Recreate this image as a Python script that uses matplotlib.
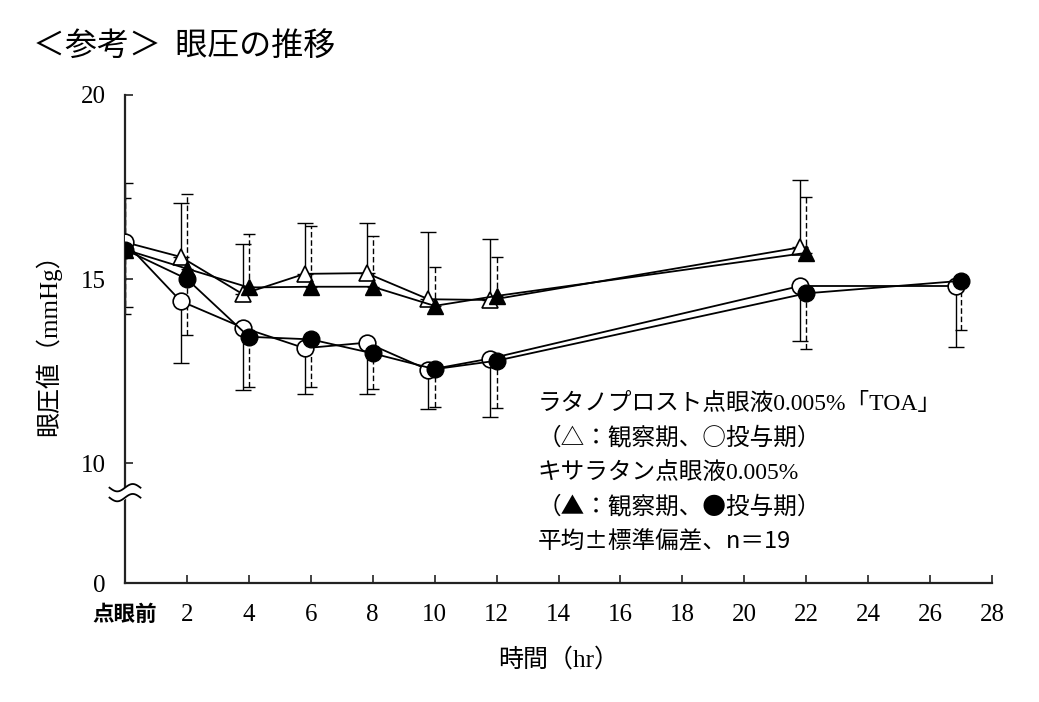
import matplotlib
matplotlib.use("Agg")
import matplotlib.pyplot as plt
from matplotlib.transforms import ScaledTranslation
import numpy as np

plt.rcParams['font.family'] = ['Liberation Serif', 'Noto Sans CJK JP']

# hours (filled markers sit on the hour, open ones are drawn slightly left)
hours_tri = [0, 2, 4, 6, 8, 10, 12, 22]
hours_cir = [0, 2, 4, 6, 8, 10, 12, 22, 27]
x_open_tri = [0, 1.8, 3.8, 5.8, 7.8, 9.8, 11.8, 21.8]
x_open_cir = [0, 1.8, 3.8, 5.8, 7.8, 9.8, 11.8, 21.8, 26.85]

# ラタノプロスト点眼液「TOA」 観察期 (open triangle), SD upward
tri_open = [16.0, 15.6, 14.59, 15.14, 15.16, 14.45, 14.43, 15.86]
tri_open_sd = [1.62, 1.46, 1.36, 1.39, 1.37, 1.82, 1.65, 1.83]
# キサラタン 観察期 (filled triangle), SD upward
tri_fill = [15.8, 15.28, 14.77, 14.79, 14.79, 14.27, 14.54, 15.71]
tri_fill_sd = [1.39, 2.03, 1.44, 1.64, 1.38, 1.05, 1.05, 1.53]
# ラタノプロスト 投与期 (open circle), SD downward
cir_open = [16.0, 14.4, 13.68, 13.12, 13.27, 12.53, 12.84, 14.81, 14.81]
cir_open_sd = [1.76, 1.69, 1.70, 1.25, 1.40, 1.07, 1.60, 1.49, 1.67]
# キサラタン 投与期 (filled circle), SD downward
cir_fill = [15.8, 15.0, 13.43, 13.36, 12.98, 12.55, 12.78, 14.61, 14.95]
cir_fill_sd = [1.75, 1.52, 1.37, 1.29, 0.98, 1.02, 1.29, 1.52, 1.34]

xtick_vals = list(range(0, 29, 2))
xtick_labels = ['点眼前'] + [str(v) for v in xtick_vals[1:]]

legend_lines = [
    'ラタノプロスト点眼液0.005%「TOA」',
    '（△：観察期、○投与期）',
    'キサラタン点眼液0.005%',
    '（▲：観察期、●投与期）',
    '平均±標準偏差、n＝19',
]
# lines whose symbols should come from the CJK font (full-width marks)
cjk_first = [False, True, False, True, True]

AXIS_BOTTOM = 6.74   # where the "0" of the broken axis sits
BREAK_Y = 9.18

fig = plt.figure(figsize=(10.39, 7.02), dpi=100)
ax = fig.add_axes([0.1203, 0.1695, 0.8345, 0.6952])

lw = 1.3
dash = (0, (4, 2))
# error bars (solid for open markers, dashed for filled)
ax.errorbar(x_open_tri, tri_open, yerr=[np.zeros(len(tri_open)), tri_open_sd],
            fmt='none', ecolor='black', elinewidth=1.0, capsize=6, capthick=1.0, zorder=2)
e = ax.errorbar(hours_tri, tri_fill, yerr=[np.zeros(len(tri_fill)), tri_fill_sd],
                fmt='none', ecolor='black', elinewidth=1.0, capsize=4, capthick=1.0, zorder=2)
e[2][0].set_linestyle(dash)
ax.errorbar(x_open_cir, cir_open, yerr=[cir_open_sd, np.zeros(len(cir_open))],
            fmt='none', ecolor='black', elinewidth=1.0, capsize=6, capthick=1.0, zorder=2)
e = ax.errorbar(hours_cir, cir_fill, yerr=[cir_fill_sd, np.zeros(len(cir_fill))],
                fmt='none', ecolor='black', elinewidth=1.0, capsize=4, capthick=1.0, zorder=2)
e[2][0].set_linestyle(dash)

# lines and markers
ax.plot(x_open_tri, tri_open, color='black', lw=lw, marker='^', ms=12,
        mfc='white', mec='black', mew=1.2, zorder=5)
ax.plot(hours_tri, tri_fill, color='black', lw=lw, marker='^', ms=12,
        mfc='black', mec='black', zorder=5)
ax.plot(x_open_cir, cir_open, color='black', lw=lw, marker='o', ms=12,
        mfc='white', mec='black', mew=1.2, zorder=6)
ax.plot(hours_cir, cir_fill, color='black', lw=lw, marker='o', ms=12,
        mfc='black', mec='black', zorder=6)

ax.set_xlim(0, 28)
ax.set_ylim(AXIS_BOTTOM, 20)
ax.set_xticks(xtick_vals)
ax.set_xticklabels(xtick_labels, fontsize=18)
lab0 = ax.get_xticklabels()[0]
lab0.set_fontfamily('Noto Sans CJK JP')
lab0.set_fontweight('bold')
lab0.set_fontsize(15.5)
lab0.set_transform(lab0.get_transform() + ScaledTranslation(-0.18, -0.02, fig.dpi_scale_trans))
ax.set_yticks([AXIS_BOTTOM, 10, 15, 20])
ax.set_yticklabels(['0', '10', '15', '20'], fontsize=18)
ax.tick_params(axis='both', direction='in', length=6, width=1.2, color='#222222')
ax.tick_params(axis='y', pad=14)
ax.tick_params(axis='x', pad=15)
for s in ['top', 'right']:
    ax.spines[s].set_visible(False)
for s in ['left', 'bottom']:
    ax.spines[s].set_linewidth(1.6)
    ax.spines[s].set_color('#222222')

ax.set_xlabel('時間（hr）', fontsize=18, labelpad=16)
ax.set_ylabel('眼圧値（mmHg）', fontsize=18, labelpad=14)

# axis break marks
t = np.linspace(-1, 1, 60)
wx = t * 0.5
w1 = BREAK_Y + 0.15 + 0.1 * np.sin(np.pi * t)
w2 = BREAK_Y - 0.12 + 0.1 * np.sin(np.pi * t)
ax.fill_between(wx, w2, w1, color='white', zorder=7, clip_on=False)
ax.plot(wx, w1, color='black', lw=1.3, zorder=8, clip_on=False)
ax.plot(wx, w2, color='black', lw=1.3, zorder=8, clip_on=False)

# legend text block
for i, line in enumerate(legend_lines):
    fam = ['Noto Sans CJK JP', 'Liberation Serif'] if cjk_first[i] else ['Liberation Serif', 'Noto Sans CJK JP']
    ax.text(0.476, 0.367 - i * 0.0705, line, transform=ax.transAxes,
            fontsize=17, ha='left', va='center', family=fam)

fig.text(0.032, 0.935, '＜参考＞  眼圧の推移', fontsize=23, ha='left', va='center',
         family=['Noto Sans CJK JP'])

fig.savefig('out.png', dpi=100)
